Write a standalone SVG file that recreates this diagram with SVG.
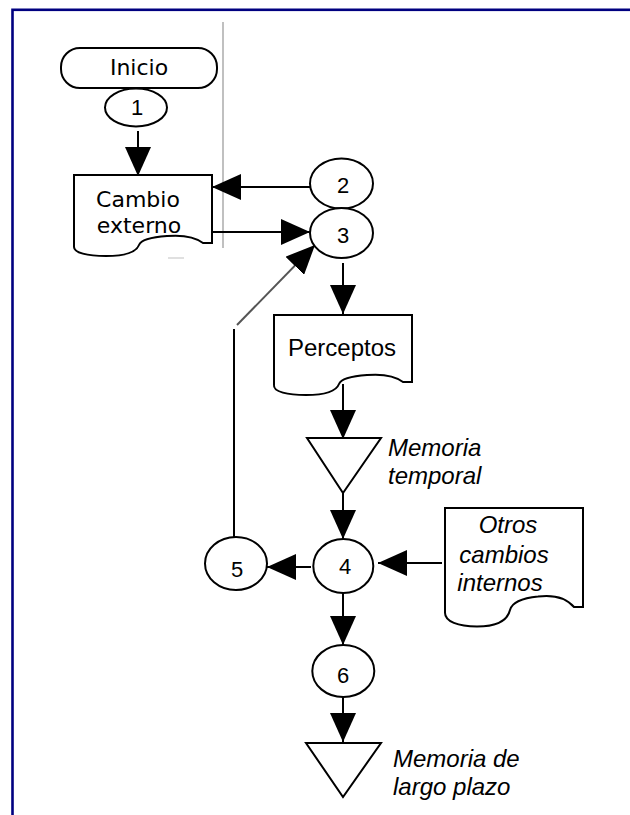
<svg xmlns="http://www.w3.org/2000/svg" width="630" height="815" viewBox="0 0 630 815">
<style>
.shape{fill:#fff;stroke:#000;stroke-width:2}
.con{fill:none;stroke:#000;stroke-width:2}
.gray{fill:none;stroke:#555;stroke-width:2}
.num{font-family:"Liberation Sans",Arial,sans-serif;font-size:22px;text-anchor:middle;fill:#000}
.vd{font-family:"DejaVu Sans",Verdana,sans-serif;font-size:22px;text-anchor:middle;fill:#000}
.lbl{font-family:"Liberation Sans",Arial,sans-serif;font-size:24px;fill:#000}
.it{font-family:"Liberation Sans",Arial,sans-serif;font-size:24px;font-style:italic;fill:#000}
</style>
<defs>
<marker id="ah" markerUnits="userSpaceOnUse" markerWidth="30" markerHeight="26" refX="29" refY="13" orient="auto">
<path d="M0,0 L29,13 L0,26 Z" fill="#000"/>
</marker>
</defs>
<rect x="12.5" y="9.8" width="700" height="900" fill="none" stroke="#000080" stroke-width="2.6"/>
<line x1="223" y1="22" x2="223" y2="248" stroke="#c0c0c0" stroke-width="2"/>
<line x1="168" y1="258" x2="184" y2="258" stroke="#e0e0e0" stroke-width="2"/>
<g id="connectors">
<line class="con" x1="138" y1="131" x2="138" y2="176" marker-end="url(#ah)"/>
<line class="con" x1="310" y1="187" x2="212" y2="187" marker-end="url(#ah)"/>
<line class="con" x1="212" y1="232" x2="310" y2="232" marker-end="url(#ah)"/>
<line class="con" x1="234" y1="537" x2="234" y2="329"/>
<line class="gray" x1="237" y1="325" x2="315" y2="245" marker-end="url(#ah)"/>
<line class="con" x1="343" y1="263" x2="343" y2="314" marker-end="url(#ah)"/>
<line class="con" x1="343" y1="384" x2="343" y2="439" marker-end="url(#ah)"/>
<line class="con" x1="343" y1="493" x2="343" y2="539" marker-end="url(#ah)"/>
<line class="con" x1="311" y1="567" x2="267" y2="567" marker-end="url(#ah)"/>
<line class="con" x1="442" y1="563" x2="378" y2="563" marker-end="url(#ah)"/>
<line class="con" x1="343" y1="593" x2="343" y2="645" marker-end="url(#ah)"/>
<line class="con" x1="343" y1="697" x2="343" y2="742" marker-end="url(#ah)"/>
</g>
<g id="inicio">
<rect class="shape" x="61" y="48" width="156" height="40" rx="19" ry="19"/>
<text class="vd" x="139" y="75">Inicio</text>
</g>
<g id="n1">
<ellipse class="shape" cx="136" cy="107.5" rx="31" ry="19"/>
<text class="num" x="137" y="115">1</text>
</g>
<g id="cambio">
<path class="shape" d="M74,175 H212 V243 H203 C194,236 179,235 167,236 C152,237 141,240 139,245 C136,253 122,256 106,256 C88,256 73,253 74,246 Z"/>
<text class="vd" x="138" y="207">Cambio</text>
<text class="vd" x="139" y="233">externo</text>
</g>
<g id="n2">
<ellipse class="shape" cx="341.5" cy="183.5" rx="31.5" ry="25"/>
<text class="num" x="343" y="193">2</text>
</g>
<g id="n3">
<ellipse class="shape" cx="341.5" cy="233" rx="31.5" ry="25"/>
<text class="num" x="343" y="243">3</text>
</g>
<g id="perceptos">
<path class="shape" d="M274,315 H412 V382 H403 C394,375 379,374 367,375 C352,376 341,379 339,384 C336,392 322,395 306,395 C288,395 273,392 274,385 Z"/>
<text class="lbl" x="342" y="356" text-anchor="middle">Perceptos</text>
</g>
<g id="memoria-temporal">
<polygon class="shape" points="307,438 381,438 343,493"/>
<text class="it" x="388" y="456">Memoria</text>
<text class="it" x="388" y="484">temporal</text>
</g>
<g id="n4">
<ellipse class="shape" cx="343.3" cy="566" rx="30" ry="27"/>
<text class="num" x="345" y="574">4</text>
</g>
<g id="n5">
<ellipse class="shape" cx="236" cy="563.5" rx="31" ry="26.5"/>
<text class="num" x="237" y="577">5</text>
</g>
<g id="otros">
<path class="shape" d="M445,508 H583 V607 H574 C565,596.5 550,595 538,596.5 C523,598 512,602.5 510,610 C507,622 493,626.5 477,626.5 C459,626.5 444,622 445,611.5 Z"/>
<text class="it" x="508" y="533" text-anchor="middle">Otros</text>
<text class="it" x="504" y="563" text-anchor="middle">cambios</text>
<text class="it" x="500" y="591" text-anchor="middle">internos</text>
</g>
<g id="n6">
<ellipse class="shape" cx="343.3" cy="671" rx="31" ry="26"/>
<text class="num" x="343" y="683">6</text>
</g>
<g id="memoria-largo">
<polygon class="shape" points="306,743 381,743 343,797"/>
<text class="it" x="393" y="767">Memoria de</text>
<text class="it" x="393" y="795">largo plazo</text>
</g>
</svg>
